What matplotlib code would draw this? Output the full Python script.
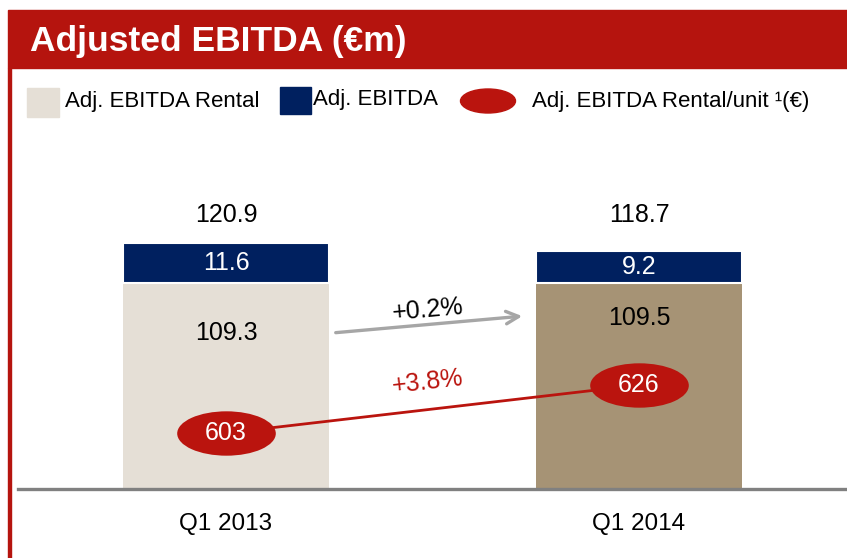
import matplotlib
matplotlib.use("Agg")
import matplotlib.pyplot as plt
from matplotlib.patches import Rectangle, Ellipse
from matplotlib.path import Path
from matplotlib.transforms import Affine2D

plt.rcParams['font.family'] = ['Liberation Sans', 'DejaVu Sans']

# ---- data ----
categories = ["Q1 2013", "Q1 2014"]
rental = [109.3, 109.5]          # Adj. EBITDA Rental
other = [11.6, 9.2]              # Adj. EBITDA (top segment)
totals = [120.9, 118.7]
per_unit = [603, 626]            # Adj. EBITDA Rental/unit (€)
growth_rental = "+0.2%"
growth_unit = "+3.8%"
title = "Adjusted EBITDA (€m)"
legend_labels = ["Adj. EBITDA Rental", "Adj. EBITDA", "Adj. EBITDA Rental/unit \u00b9(€)"]

# ---- style ----
W, H = 847, 558
RED = '#B5140E'
ELL_RED = '#BA140E'
NAVY = '#00205F'
BEIGE = '#E5DFD6'
TAN = '#A69375'
GRAY = '#A6A6A6'
AXGRAY = '#808080'

fig = plt.figure(figsize=(W / 100, H / 100), dpi=100)


def fx(px):
    return px / W


def fy(py):
    return 1 - py / H


# axes: left px 18 -> right 847 ; top px 130 -> bottom 489
ax = fig.add_axes([fx(18), fy(489), fx(847) - fx(18), fy(130) - fy(489)])
ax.set_xlim(-0.5036, 1.5036)
ax.set_ylim(50, 153.5)
x = list(range(len(categories)))
bw = 0.5
ax.bar(x, rental, width=bw, color=[BEIGE, TAN], edgecolor='white', linewidth=0, zorder=2)
ax.bar(x, other, width=bw, bottom=rental, color=NAVY, edgecolor='white', linewidth=1.5, zorder=2)

for spine in ['top', 'right', 'left']:
    ax.spines[spine].set_visible(False)
ax.spines['bottom'].set_color(AXGRAY)
ax.spines['bottom'].set_linewidth(2.4)
ax.spines['bottom'].set_zorder(5)
ax.set_yticks([])
ax.set_xticks(x)
ax.set_xticklabels(categories, fontsize=17.5)
ax.tick_params(axis='x', length=0, pad=17)

rental_label_y = [95.0, 99.3]
for i in x:
    ax.text(i, 129.0, f"{totals[i]:.1f}", ha='center', va='center', fontsize=18, color='black')
    ax.text(i, rental[i] + other[i] / 2, f"{other[i]:.1f}", ha='center', va='center',
            fontsize=18, color='white', zorder=4)
    ax.text(i, rental_label_y[i], f"{rental[i]:.1f}", ha='center', va='center',
            fontsize=18, color='black', zorder=4)

# grey growth arrow
ax.annotate("", xy=(0.724, 99.9), xytext=(0.259, 95.0),
            arrowprops=dict(arrowstyle='->,head_length=0.9,head_width=0.45',
                            color=GRAY, lw=2.4), zorder=3)
ax.text(0.489, 101.6, growth_rental, ha='center', va='center', fontsize=18,
        rotation=5, color='black')

# secondary axis for per-unit values
ax2 = ax.twinx()
ax2.set_ylim(576.2, 748.2)
ax2.set_axis_off()
ell = Path.unit_circle().transformed(Affine2D().scale(1, 0.45))
ax2.plot(x, per_unit, color=ELL_RED, lw=2.0, marker=ell, markersize=71,
         markerfacecolor=ELL_RED, markeredgewidth=0, zorder=3)
for i in x:
    ax2.text(i, per_unit[i], f"{per_unit[i]}", ha='center', va='center',
             fontsize=18, color='white', zorder=6)
ax2.text(0.489, 627.5, growth_unit, ha='center', va='center', fontsize=18,
         rotation=6.5, color=ELL_RED)

# title bar and frame line
fig.patches.append(Rectangle((fx(8), fy(68)), fx(847) - fx(8), fy(10) - fy(68),
                             transform=fig.transFigure, color=RED, zorder=0))
fig.patches.append(Rectangle((fx(8), fy(558)), fx(2.5), fy(68) - fy(558),
                             transform=fig.transFigure, color=RED, zorder=0))
fig.text(fx(30), fy(41), title, color='white', fontsize=25.5, fontweight='bold',
         ha='left', va='center')

# legend
fig.patches.append(Rectangle((fx(27), fy(117)), fx(32), fy(88) - fy(117),
                             transform=fig.transFigure, color=BEIGE))
fig.text(fx(65), fy(101), legend_labels[0], fontsize=16, ha='left', va='center')
fig.patches.append(Rectangle((fx(280), fy(114)), fx(31), fy(87) - fy(114),
                             transform=fig.transFigure, color=NAVY))
fig.text(fx(313), fy(100), legend_labels[1], fontsize=16, ha='left', va='center')
fig.patches.append(Ellipse((fx(488), fy(101)), fx(55), fy(89) - fy(113),
                           transform=fig.transFigure, color=ELL_RED))
fig.text(fx(532), fy(101), legend_labels[2], fontsize=16, ha='left', va='center')

fig.savefig("out.png", dpi=100)
